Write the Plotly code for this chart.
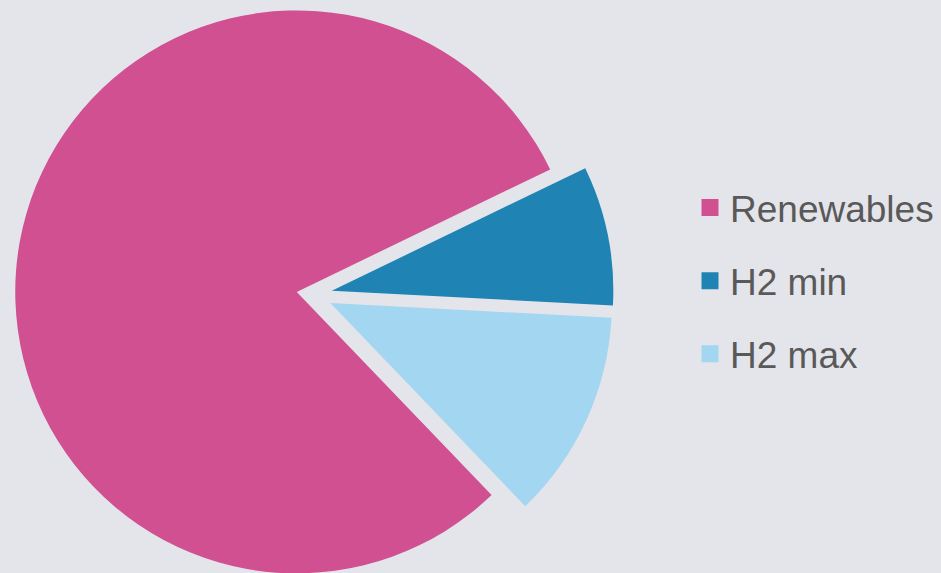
import math
import plotly.graph_objects as go

# ---- data ----
labels = ["Renewables", "H2 min", "H2 max"]
values = [80, 8, 12]
colors = ["#D05092", "#1F83B4", "#A3D6F0"]

# ---- style / layout ----
explode_px = [15.7, 20.0, 20.0]   # explosion of each slice (px)
W, H = 941, 590
R = 281.5                         # pie radius px
CX, CY = 312.2, 294.7             # pie centre before explosion (px from top-left)
ROT = 136.2                       # start angle of first slice (clockwise from 12 o'clock)
BG = "#E4E5EA"
TXT = "#595959"
FONT = "Liberation Sans, Arial, sans-serif"
CLEAR = "rgba(0,0,0,0)"

total = sum(values)


def dom(cx, cy, half):
    return dict(x=[(cx - half) / W, (cx + half) / W],
                y=[(H - (cy + half)) / H, (H - (cy - half)) / H])


fig = go.Figure()

# legend entries (tiny pies hidden beneath the big slice)
for i, lab in enumerate(labels):
    fig.add_trace(go.Pie(
        labels=[lab], values=[values[i]], sort=False,
        marker=dict(colors=[colors[i]], line=dict(color=colors[i], width=5)),
        domain=dom(150, 290, 1), textinfo="none", hoverinfo="skip",
        legendgroup=f"g{i}", showlegend=True))

# exploded slices, one trace per slice
start = ROT
for i, lab in enumerate(labels):
    sweep = 360.0 * values[i] / total
    mid = math.radians(start + sweep / 2)
    ox = explode_px[i] * math.sin(mid)
    oy = -explode_px[i] * math.cos(mid)
    cols = [CLEAR] * len(labels)
    cols[i] = colors[i]
    fig.add_trace(go.Pie(
        labels=labels, values=values, sort=False, direction="clockwise",
        rotation=ROT, marker=dict(colors=cols, line=dict(width=0)),
        domain=dom(CX + ox, CY + oy, R), textinfo="none",
        hoverinfo="label+percent", showlegend=False))
    start += sweep

fig.update_layout(
    width=W, height=H, autosize=False,
    margin=dict(l=0, r=0, t=0, b=0, pad=0),
    paper_bgcolor=BG, plot_bgcolor=BG,
    legend=dict(x=690 / W, xanchor="left", y=1 - 281 / H, yanchor="middle",
                font=dict(family=FONT, size=37, color=TXT),
                tracegroupgap=22, traceorder="grouped",
                bgcolor="rgba(0,0,0,0)", borderwidth=0),
)

fig.write_html(
    "out.html",
    config={"displayModeBar": False},
    post_script="document.documentElement.style.overflow='hidden';"
                "document.body.style.overflow='hidden';"
                "document.body.style.margin='0';",
)
